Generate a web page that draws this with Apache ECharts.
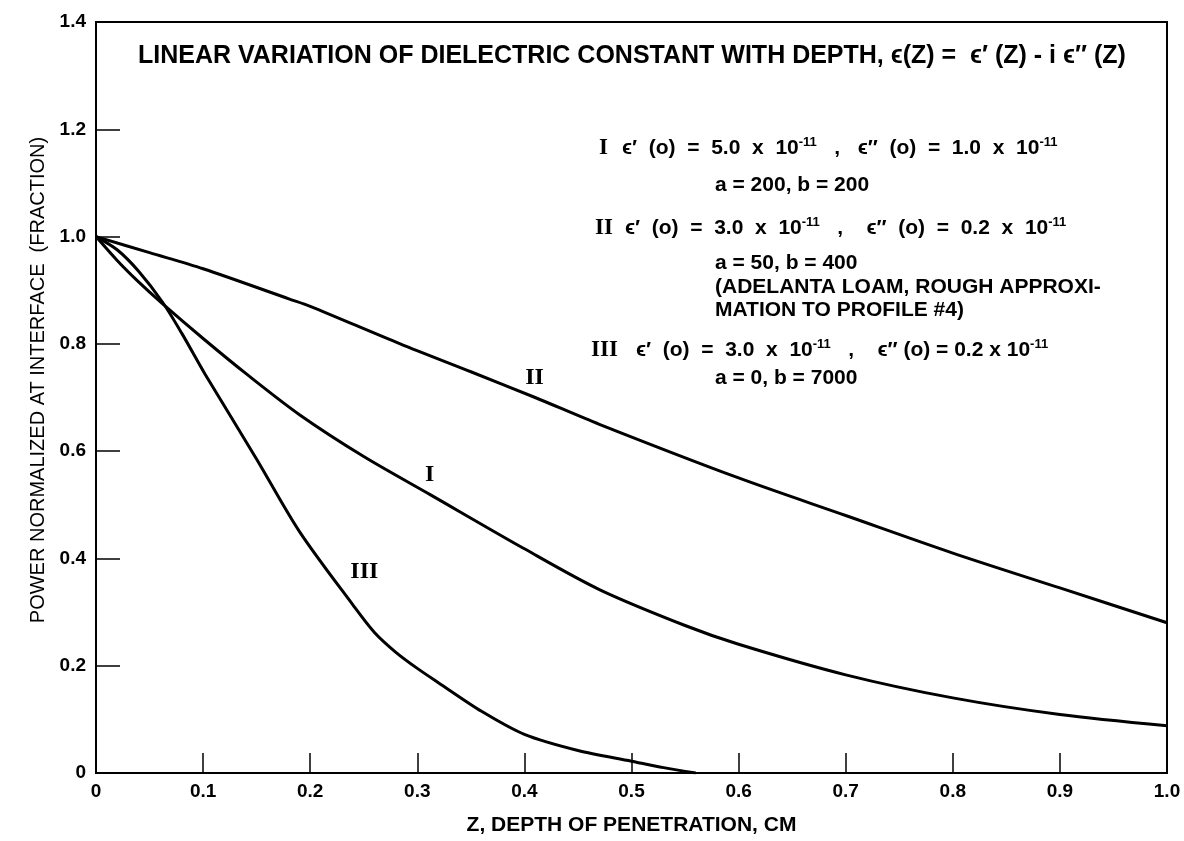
<!DOCTYPE html>
<html>
<head>
<meta charset="utf-8">
<script src="https://cdn.jsdelivr.net/npm/echarts@6/dist/echarts.min.js"></script>
<style>
html,body{margin:0;padding:0;background:#fff;}
#chart{width:1184px;height:841px;}
</style>
</head>
<body>
<div id="chart"></div>
<script>
// ---- data ----
const xTickLabels = ['0','0.1','0.2','0.3','0.4','0.5','0.6','0.7','0.8','0.9','1.0'];
const yTickLabels = ['0','0.2','0.4','0.6','0.8','1.0','1.2','1.4'];

const curveIx = [0, 0.02, 0.04, 0.062, 0.1, 0.141, 0.19, 0.25, 0.312, 0.4, 0.47, 0.55, 0.6, 0.7, 0.8, 0.9, 1.0];
const curveIy = [1.0, 0.955, 0.915, 0.875, 0.81, 0.743, 0.668, 0.59, 0.519, 0.418, 0.342, 0.275, 0.24, 0.183, 0.14, 0.109, 0.088];

const curveIIx = [0, 0.05, 0.1, 0.18, 0.2, 0.284, 0.35, 0.41, 0.47, 0.6, 0.7, 0.8, 0.9, 1.0];
const curveIIy = [1.0, 0.97, 0.94, 0.884, 0.87, 0.80, 0.748, 0.70, 0.65, 0.55, 0.48, 0.41, 0.345, 0.28];

const curveIIIx = [0, 0.02, 0.04, 0.062, 0.08, 0.102, 0.15, 0.19, 0.24, 0.26, 0.28, 0.3, 0.32, 0.36, 0.4, 0.45, 0.5, 0.53, 0.56];
const curveIIIy = [1.0, 0.975, 0.935, 0.878, 0.82, 0.743, 0.585, 0.45, 0.313, 0.262, 0.225, 0.195, 0.168, 0.115, 0.072, 0.042, 0.022, 0.01, 0.0];

const curveNames = ['I', 'II', 'III'];
const curveLabelPos = [[0.312, 0.555], [0.41, 0.735], [0.251, 0.375]];

const titleText = 'LINEAR VARIATION OF DIELECTRIC CONSTANT WITH DEPTH, ϵ(Z) =  ϵ′ (Z) - i ϵ″ (Z)';
const xName = 'Z, DEPTH OF PENETRATION, CM';
const yName = 'POWER NORMALIZED AT INTERFACE  (FRACTION)';

function zip(xs, ys){ return xs.map((x,i)=>[x, ys[i]]); }

const chart = echarts.init(document.getElementById('chart'), null, {renderer:'canvas'});
const SANS = '"Liberation Sans", Arial, Helvetica, sans-serif';
const SERIF = '"Liberation Serif", "Times New Roman", serif';

const lineStyle = {color:'#000', width:3};
function mkSeries(name, xs, ys){
  return {
    name, type:'line', data: zip(xs, ys), smooth:0.3,
    showSymbol:false, symbol:'none', lineStyle, silent:true
  };
}

const labelSeries = {
  type:'scatter', symbolSize:1, silent:true,
  itemStyle:{color:'#fff', opacity:0},
  data: curveNames.map((n,i)=>({value: curveLabelPos[i], name:n})),
  label:{show:true, position:[0,0], align:'center', verticalAlign:'middle', formatter:p=>p.name,
    fontFamily:SERIF, fontWeight:'bold', fontSize:24, color:'#000', opacity:1,
    textBorderWidth:0}
};

const rich = {
  r:{fontFamily:SERIF, fontWeight:'bold', fontSize:23, color:'#000'},
  t:{fontFamily:SANS, fontWeight:'bold', fontSize:21, color:'#000'},
  s:{fontFamily:SANS, fontWeight:'bold', fontSize:13, color:'#000', padding:[0,0,12,0]}
};

function txt(x, y, text){
  return {type:'text', x, y, silent:true,
    style:{text, rich, fill:'#000', font:'bold 21px '+SANS, verticalAlign:'middle', align:'left'}};
}

const graphics = [
  {type:'text', x:138, y:56, silent:true,
   style:{text:titleText, fill:'#000', font:'bold 25px '+SANS, verticalAlign:'middle'}},
  txt(599, 148, '{r|I}'),
  txt(622, 148, '{t|ϵ′  (o)  =  5.0  x  10}{s|-11}{t|   ,   ϵ″  (o)  =  1.0  x  10}{s|-11}'),
  txt(715, 185, '{t|a = 200, b = 200}'),
  txt(595, 228, '{r|II}'),
  txt(625, 228, '{t|ϵ′  (o)  =  3.0  x  10}{s|-11}{t|   ,    ϵ″  (o)  =  0.2  x  10}{s|-11}'),
  txt(715, 263, '{t|a = 50, b = 400}'),
  txt(715, 287, '{t|(ADELANTA LOAM, ROUGH APPROXI-}'),
  txt(715, 310, '{t|MATION TO PROFILE #4)}'),
  txt(591, 350, '{r|III}'),
  txt(636, 350, '{t|ϵ′  (o)  =  3.0  x  10}{s|-11}{t|   ,    ϵ″ (o) = 0.2 x 10}{s|-11}'),
  txt(715, 378, '{t|a = 0, b = 7000}'),
  {type:'text', x:38, y:380, rotation:Math.PI/2, silent:true,
   style:{text:yName, fill:'#000', font:'20px '+SANS, align:'center', verticalAlign:'middle'}}
];

chart.setOption({
  animation:false,
  backgroundColor:'#fff',
  grid:{left:96, right:17, top:22, bottom:64, show:true, borderColor:'#000', borderWidth:2, backgroundColor:'transparent'},
  xAxis:{
    type:'value', min:0, max:1, interval:0.1,
    name:xName, nameLocation:'middle', nameGap:42,
    nameTextStyle:{fontFamily:SANS, fontWeight:'bold', fontSize:21, color:'#000'},
    axisLine:{show:true, lineStyle:{color:'#000', width:2}},
    axisTick:{show:true, inside:true, length:20, lineStyle:{color:'#000', width:1.5}},
    axisLabel:{color:'#000', fontFamily:SANS, fontWeight:'bold', fontSize:19, margin:9,
      formatter:(v)=>xTickLabels[Math.round(v*10)]},
    splitLine:{show:false}
  },
  yAxis:{
    type:'value', min:0, max:1.4, interval:0.2,
    axisLine:{show:true, lineStyle:{color:'#000', width:2}},
    axisTick:{show:true, inside:true, length:24, lineStyle:{color:'#000', width:1.5}},
    axisLabel:{color:'#000', fontFamily:SANS, fontWeight:'bold', fontSize:19, margin:10,
      formatter:(v)=>yTickLabels[Math.round(v*5)]},
    splitLine:{show:false}
  },
  series:[
    mkSeries('I', curveIx, curveIy),
    mkSeries('II', curveIIx, curveIIy),
    mkSeries('III', curveIIIx, curveIIIy),
    labelSeries
  ],
  graphic:graphics
});
</script>
</body>
</html>
